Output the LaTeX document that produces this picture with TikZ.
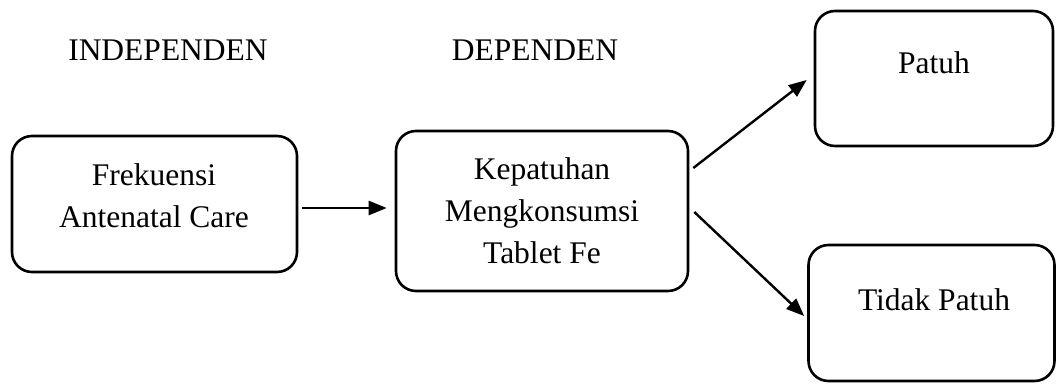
\documentclass[tikz,border=0pt]{standalone}
\usepackage{fontspec}
\setmainfont{Liberation Serif}
\usetikzlibrary{arrows.meta,calc}
\begin{document}
\begin{tikzpicture}[x=1pt,y=-1pt,
  box/.style={draw, line width=2.6pt, rounded corners=20pt, inner sep=0pt},
  txt/.style={font=\fontsize{31.5}{42}\selectfont, align=center, anchor=base, inner sep=0pt},
  arr/.style={line width=2.4pt, -{Triangle[length=18pt,width=14pt]}}]
\useasboundingbox (0,0) rectangle (1057,383);
\node[box, minimum width=285pt, minimum height=136pt] (b1) at (154.5,204) {};
\node[box, minimum width=292pt, minimum height=160pt] (b2) at (542,211) {};
\node[box, minimum width=238pt, minimum height=135pt] (b3) at (934,78.5) {};
\node[box, minimum width=246pt, minimum height=136pt] (b4) at (931.5,313) {};
\node[txt] (h1) at (168,60) {INDEPENDEN};
\node[txt] (h2) at (535,60) {DEPENDEN};
\node[txt] (t1) at (154,227) {Frekuensi\\Antenatal Care};
\node[txt] (t2) at (542,263) {Kepatuhan\\Mengkonsumsi\\Tablet Fe};
\node[txt] (t3) at (934,73) {Patuh};
\node[txt] (t4) at (934,310) {Tidak Patuh};
\draw[arr] ($(b1.east)+(4,4)$) -- ($(b2.west)+(-8,-3)$);
\draw[arr] ($(b2.east)+(4,-43)$) -- ($(b3.west)+(-7,1.5)$);
\draw[arr] ($(b2.east)+(5,1)$) -- ($(b4.west)+(-3,3)$);
\end{tikzpicture}
\end{document}
